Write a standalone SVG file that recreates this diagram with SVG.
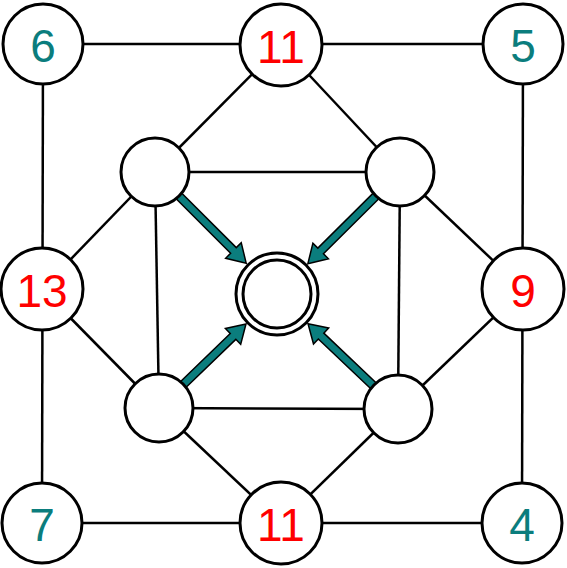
<svg xmlns="http://www.w3.org/2000/svg" width="567" height="568" viewBox="0 0 567 568">
<style>
.e{stroke:#000;stroke-width:2.5;fill:none}
.n{fill:#fff;stroke:#000;stroke-width:3}
.a{fill:#0b7d7d;stroke:#000;stroke-width:1.5;stroke-linejoin:miter}
text{font-family:"Liberation Sans","DejaVu Sans",sans-serif;font-size:46px;text-anchor:middle;dominant-baseline:central}
.r{fill:#ff0000}
.t{fill:#0b7d7d}
</style>
<rect width="567" height="568" fill="#fff"/>
<g id="connectors">
<line class="e" x1="43" y1="44" x2="523" y2="44"/>
<line class="e" x1="42" y1="523" x2="522" y2="523"/>
<line class="e" x1="43" y1="44" x2="42" y2="523"/>
<line class="e" x1="523" y1="44" x2="522" y2="523"/>
<line class="e" x1="281" y1="45" x2="155" y2="172"/>
<line class="e" x1="281" y1="45" x2="400" y2="172"/>
<line class="e" x1="42" y1="289" x2="155" y2="172"/>
<line class="e" x1="42" y1="289" x2="159" y2="408"/>
<line class="e" x1="523" y1="289" x2="400" y2="172"/>
<line class="e" x1="523" y1="289" x2="398" y2="409"/>
<line class="e" x1="281" y1="523" x2="159" y2="408"/>
<line class="e" x1="281" y1="523" x2="398" y2="409"/>
<line class="e" x1="155" y1="172" x2="400" y2="172"/>
<line class="e" x1="159" y1="408" x2="398" y2="409"/>
<line class="e" x1="155" y1="172" x2="159" y2="408"/>
<line class="e" x1="400" y1="172" x2="398" y2="409"/>
<path class="a" transform="translate(179,196) rotate(45)" d="M0,-4 L77,-4 L77,-11 L95,0 L77,11 L77,4 L0,4 Z"/>
<path class="a" transform="translate(376,196) rotate(135.2)" d="M0,-4 L78,-4 L78,-11 L96,0 L78,11 L78,4 L0,4 Z"/>
<path class="a" transform="translate(183.4,384.4) rotate(-44)" d="M0,-4 L69,-4 L69,-11 L87,0 L69,11 L69,4 L0,4 Z"/>
<path class="a" transform="translate(373.3,385.6) rotate(-136.5)" d="M0,-4 L72,-4 L72,-11 L90,0 L72,11 L72,4 L0,4 Z"/>
</g>
<g id="n6"><circle class="n" cx="43" cy="44" r="40"/><text class="t" x="43" y="46">6</text></g>
<g id="n11top"><circle class="n" cx="281" cy="45" r="41"/><text class="r" x="281" y="47">11</text></g>
<g id="n5"><circle class="n" cx="523" cy="44" r="40"/><text class="t" x="523" y="46">5</text></g>
<g id="n13"><circle class="n" cx="42" cy="289" r="41"/><text class="r" x="42" y="291">13</text></g>
<g id="n9"><circle class="n" cx="523" cy="289" r="41"/><text class="r" x="523" y="291">9</text></g>
<g id="n7"><circle class="n" cx="42" cy="523" r="40"/><text class="t" x="42" y="525">7</text></g>
<g id="n11bot"><circle class="n" cx="281" cy="523" r="41"/><text class="r" x="281" y="525">11</text></g>
<g id="n4"><circle class="n" cx="522" cy="523" r="40"/><text class="t" x="522" y="525">4</text></g>
<g id="tl"><circle class="n" cx="155" cy="172" r="34"/></g>
<g id="tr"><circle class="n" cx="400" cy="172" r="34"/></g>
<g id="bl"><circle class="n" cx="159" cy="408" r="34"/></g>
<g id="br"><circle class="n" cx="398" cy="409" r="34"/></g>
<g id="center"><circle class="n" cx="277" cy="294" r="41"/><circle class="n" cx="277" cy="294" r="34"/></g>
</svg>
